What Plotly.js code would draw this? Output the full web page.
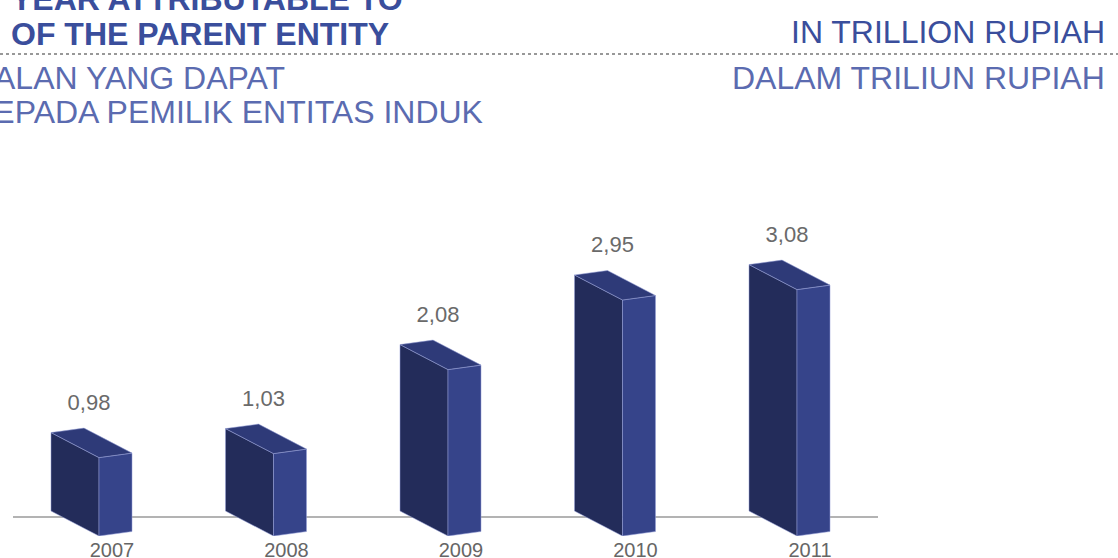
<!DOCTYPE html>
<html>
<head>
<meta charset="utf-8">
<script src="https://cdn.plot.ly/plotly-3.0.1.min.js"></script>
<style>
html,body{margin:0;padding:0;background:#fff;overflow:hidden;}
#chart{width:1118px;height:558px;}
</style>
</head>
<body>
<div id="chart"></div>
<script>
// ---- data ----
const years = ['2007', '2008', '2009', '2010', '2011'];
const values = [0.98, 1.03, 2.08, 2.95, 3.08];
const valueLabels = ['0,98', '1,03', '2,08', '2,95', '3,08'];

// ---- box geometry (axis units) ----
const PXX = 174.5, PXY = 80;           // px per x unit / y unit
const OFF = -13 / PXX;                  // front-left edge relative to tick
const W = 33 / PXX, WY = 4.5 / PXY;     // front face width and rise
const DX = -48 / PXX, DY = 25 / PXY;    // depth vector

const cLeft = '#232c5a', cFront = '#36448a', cTop = '#2e3a78';
const edge = {color: 'rgba(150,160,215,0.75)', width: 0.7};

const traces = [];
function face(xs, ys, color) {
  traces.push({type: 'scatter', mode: 'lines', x: xs.concat([xs[0]]), y: ys.concat([ys[0]]),
    fill: 'toself', fillcolor: color, line: edge, hoverinfo: 'skip', showlegend: false});
}
values.forEach((v, i) => {
  const fl = i + OFF, fr = fl + W, bl = fl + DX, br = bl + W;
  face([bl, fl, fl, bl], [DY, 0, v, DY + v], cLeft);                       // left face
  face([fl, fr, fr, fl], [0, WY, WY + v, v], cFront);                      // front face
  face([bl, br, fr, fl], [DY + v, DY + WY + v, WY + v, v], cTop);          // top face
});
// value labels
traces.push({type: 'scatter', mode: 'text',
  x: values.map((v, i) => i + OFF - 10 / PXX),
  y: values.map(v => v + 0.19 + 38 / PXY),
  text: valueLabels, textposition: 'middle center',
  textfont: {family: 'Liberation Sans, Arial, sans-serif', size: 22, color: '#6a6a6a'},
  hoverinfo: 'skip', showlegend: false, cliponaxis: false});

const titleBlue = '#3a4e9c', lightBlue = '#5b6bb0';
const narrow = 'Liberation Sans Narrow, Arial Narrow, sans-serif';
function py(p) { return 1 - p / 536; }
const annotations = [
  {text: '<b>YEAR ATTRIBUTABLE TO</b>', x: 9 / 1118, y: py(-1), xanchor: 'left', yanchor: 'middle',
    font: {family: narrow, size: 32, color: titleBlue}},
  {text: '<b>OF THE PARENT ENTITY</b>', x: 9 / 1118, y: py(34), xanchor: 'left', yanchor: 'middle',
    font: {family: narrow, size: 32, color: titleBlue}},
  {text: 'IN TRILLION RUPIAH', x: 1107 / 1118, y: py(32), xanchor: 'right', yanchor: 'middle',
    font: {family: narrow, size: 32, color: titleBlue}},
  {text: 'DALAM TRILIUN RUPIAH', x: 1107 / 1118, y: py(78), xanchor: 'right', yanchor: 'middle',
    font: {family: narrow, size: 32, color: lightBlue}},
  {text: 'JALAN YANG DAPAT', x: 287 / 1118, y: py(78), xanchor: 'right', yanchor: 'middle',
    font: {family: narrow, size: 32, color: lightBlue}},
  {text: 'KEPADA PEMILIK ENTITAS INDUK', x: 485 / 1118, y: py(112), xanchor: 'right', yanchor: 'middle',
    font: {family: narrow, size: 32, color: lightBlue}}
].map(a => Object.assign({xref: 'paper', yref: 'paper', showarrow: false}, a));

const layout = {
  width: 1118, height: 558,
  margin: {l: 0, r: 0, t: 0, b: 22, pad: 0},
  paper_bgcolor: '#ffffff', plot_bgcolor: '#ffffff',
  showlegend: false, hovermode: false,
  xaxis: {range: [-112 / PXX, -112 / PXX + 1118 / PXX], tickvals: [0, 1, 2, 3, 4], ticktext: years,
    ticks: '', showgrid: false, zeroline: false, showline: false, automargin: false,
    tickfont: {family: 'Liberation Sans, Arial, sans-serif', size: 20, color: '#666666'}, fixedrange: true},
  yaxis: {range: [0, 536 / PXY], visible: false, fixedrange: true},
  shapes: [
    {type: 'line', xref: 'x', yref: 'y', x0: -99 / PXX, x1: 766 / PXX, y0: 19 / PXY, y1: 19 / PXY,
      line: {color: '#9a9a9a', width: 1.5}, layer: 'below'},
    {type: 'line', xref: 'paper', yref: 'paper', x0: 0, x1: 1, y0: py(54), y1: py(54),
      line: {color: '#777777', width: 1.5, dash: 'dot'}}
  ],
  annotations: annotations
};
Plotly.newPlot('chart', traces, layout, {displayModeBar: false, staticPlot: true});
</script>
</body>
</html>
